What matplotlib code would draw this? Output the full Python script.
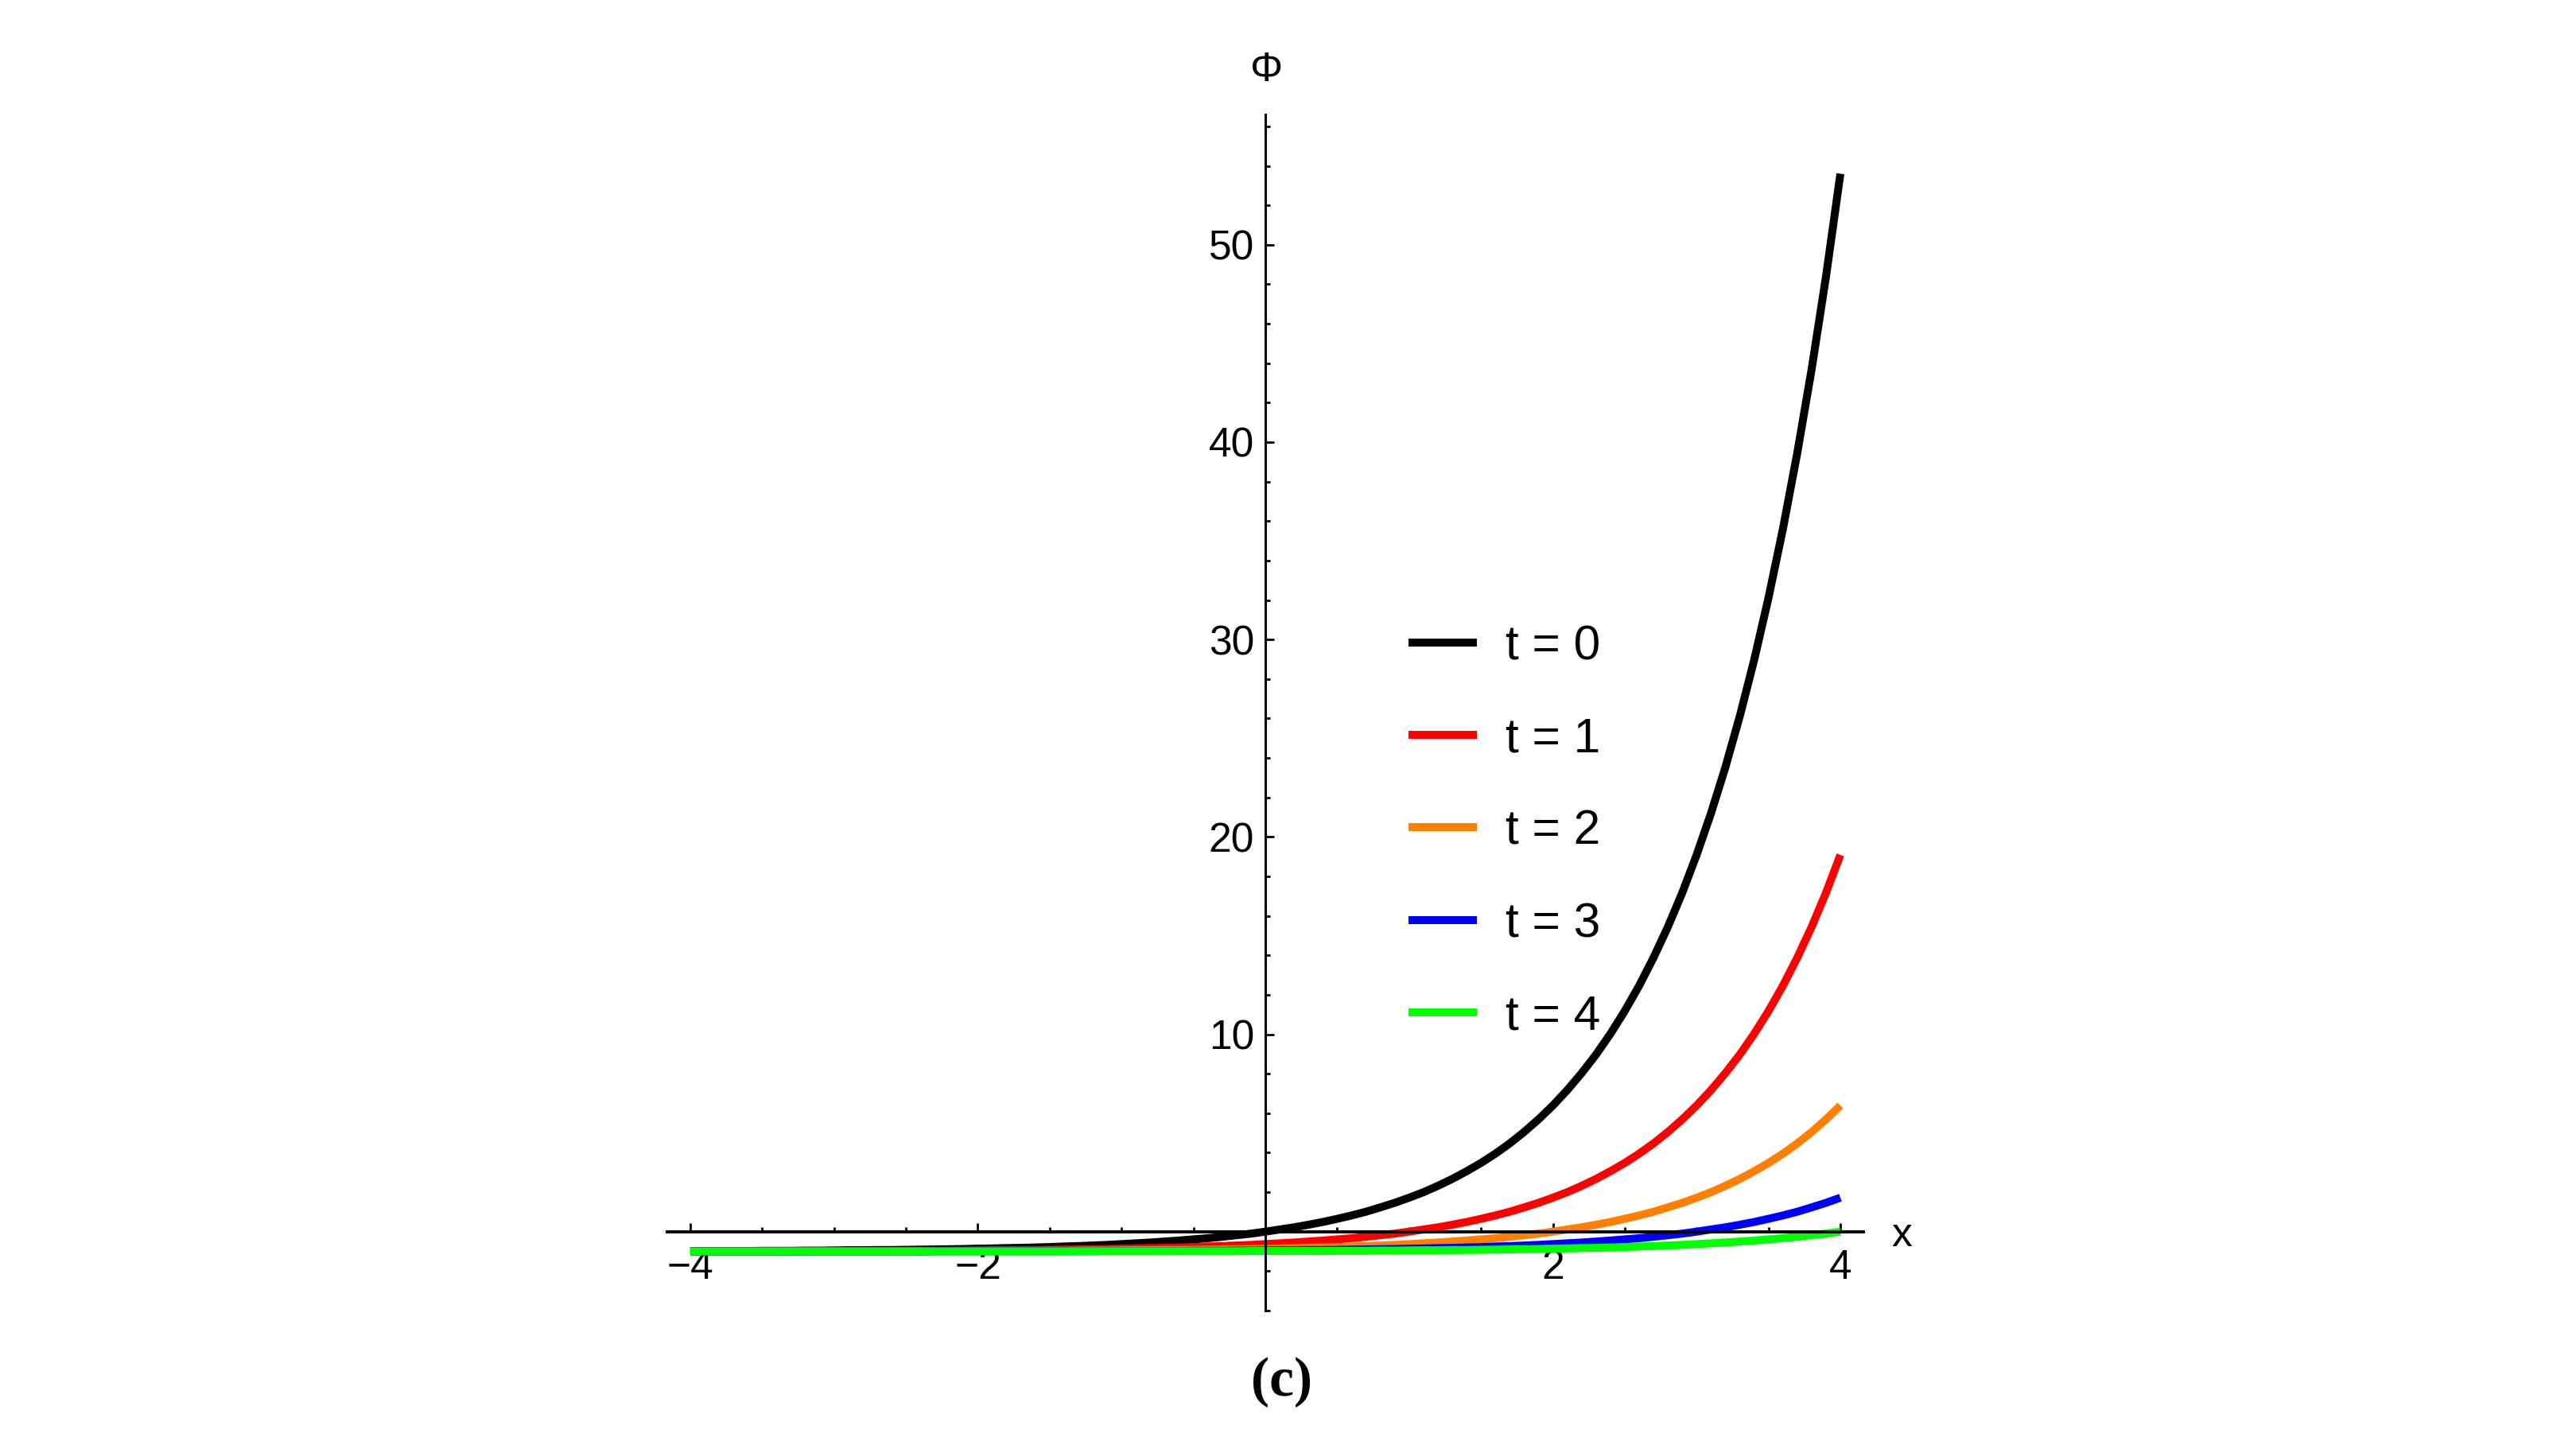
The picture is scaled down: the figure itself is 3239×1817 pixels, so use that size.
import numpy as np
import matplotlib.pyplot as plt

plt.rcParams['font.family'] = ['Liberation Sans', 'DejaVu Sans']

# values, x step 0.1 from -4 to 4
x = np.linspace(-4, 4, 81)

phi_t0 = [-0.98, -0.98, -0.98, -0.98, -0.98, -0.97, -0.97, -0.97, -0.96, -0.96,
          -0.95, -0.94, -0.94, -0.93, -0.93, -0.92, -0.91, -0.90, -0.89, -0.88,
          -0.86, -0.85, -0.83, -0.82, -0.80, -0.78, -0.75, -0.73, -0.70, -0.67,
          -0.63, -0.59, -0.55, -0.50, -0.45, -0.39, -0.33, -0.26, -0.18, -0.10,
          0.00, 0.11, 0.22, 0.35, 0.49, 0.65, 0.82, 1.01, 1.23, 1.46,
          1.72, 2.00, 2.32, 2.67, 3.06, 3.48, 3.95, 4.47, 5.05, 5.69,
          6.39, 7.17, 8.03, 8.97, 10.02, 11.18, 12.46, 13.88, 15.44, 17.17,
          19.09, 21.20, 23.53, 26.11, 28.96, 32.12, 35.60, 39.45, 43.70, 48.40,
          53.60]
phi_t1 = [-0.99, -0.99, -0.99, -0.99, -0.99, -0.99, -0.99, -0.99, -0.99, -0.98,
          -0.98, -0.98, -0.98, -0.98, -0.98, -0.97, -0.97, -0.97, -0.96, -0.96,
          -0.95, -0.94, -0.94, -0.93, -0.93, -0.92, -0.91, -0.90, -0.89, -0.88,
          -0.86, -0.85, -0.83, -0.82, -0.80, -0.78, -0.75, -0.73, -0.70, -0.67,
          -0.63, -0.59, -0.55, -0.50, -0.45, -0.39, -0.33, -0.26, -0.18, -0.10,
          0.00, 0.11, 0.22, 0.35, 0.49, 0.65, 0.82, 1.01, 1.23, 1.46,
          1.72, 2.00, 2.32, 2.67, 3.06, 3.48, 3.95, 4.47, 5.05, 5.69,
          6.39, 7.17, 8.03, 8.97, 10.02, 11.18, 12.46, 13.88, 15.44, 17.17,
          19.09]
phi_t2 = [-1.00, -1.00, -1.00, -1.00, -1.00, -1.00, -1.00, -0.99, -0.99, -0.99,
          -0.99, -0.99, -0.99, -0.99, -0.99, -0.99, -0.99, -0.99, -0.99, -0.98,
          -0.98, -0.98, -0.98, -0.98, -0.98, -0.97, -0.97, -0.97, -0.96, -0.96,
          -0.95, -0.94, -0.94, -0.93, -0.93, -0.92, -0.91, -0.90, -0.89, -0.88,
          -0.86, -0.85, -0.83, -0.82, -0.80, -0.78, -0.75, -0.73, -0.70, -0.67,
          -0.63, -0.59, -0.55, -0.50, -0.45, -0.39, -0.33, -0.26, -0.18, -0.10,
          0.00, 0.11, 0.22, 0.35, 0.49, 0.65, 0.82, 1.01, 1.23, 1.46,
          1.72, 2.00, 2.32, 2.67, 3.06, 3.48, 3.95, 4.47, 5.05, 5.69,
          6.39]
phi_t3 = [-1.00, -1.00, -1.00, -1.00, -1.00, -1.00, -1.00, -1.00, -1.00, -1.00,
          -1.00, -1.00, -1.00, -1.00, -1.00, -1.00, -1.00, -0.99, -0.99, -0.99,
          -0.99, -0.99, -0.99, -0.99, -0.99, -0.99, -0.99, -0.99, -0.99, -0.98,
          -0.98, -0.98, -0.98, -0.98, -0.98, -0.97, -0.97, -0.97, -0.96, -0.96,
          -0.95, -0.94, -0.94, -0.93, -0.93, -0.92, -0.91, -0.90, -0.89, -0.88,
          -0.86, -0.85, -0.83, -0.82, -0.80, -0.78, -0.75, -0.73, -0.70, -0.67,
          -0.63, -0.59, -0.55, -0.50, -0.45, -0.39, -0.33, -0.26, -0.18, -0.10,
          0.00, 0.11, 0.22, 0.35, 0.49, 0.65, 0.82, 1.01, 1.23, 1.46,
          1.72]
phi_t4 = [-1.00, -1.00, -1.00, -1.00, -1.00, -1.00, -1.00, -1.00, -1.00, -1.00,
          -1.00, -1.00, -1.00, -1.00, -1.00, -1.00, -1.00, -1.00, -1.00, -1.00,
          -1.00, -1.00, -1.00, -1.00, -1.00, -1.00, -1.00, -0.99, -0.99, -0.99,
          -0.99, -0.99, -0.99, -0.99, -0.99, -0.99, -0.99, -0.99, -0.99, -0.98,
          -0.98, -0.98, -0.98, -0.98, -0.98, -0.97, -0.97, -0.97, -0.96, -0.96,
          -0.95, -0.94, -0.94, -0.93, -0.93, -0.92, -0.91, -0.90, -0.89, -0.88,
          -0.86, -0.85, -0.83, -0.82, -0.80, -0.78, -0.75, -0.73, -0.70, -0.67,
          -0.63, -0.59, -0.55, -0.50, -0.45, -0.39, -0.33, -0.26, -0.18, -0.10,
          0.00]

labels = ['t = 0', 't = 1', 't = 2', 't = 3', 't = 4']
colors = ['#000000', '#ff0000', '#ff8000', '#0000ff', '#00ff00']

W, H = 3239, 1817
fig = plt.figure(figsize=(W / 200, H / 200), dpi=200)
# axes box: x from 839 to 2343 px, y from 144 to 1648 px
ax = fig.add_axes([839 / W, 1 - 1648 / H, (2343 - 839) / W, (1648 - 144) / H])

series = [phi_t0, phi_t1, phi_t2, phi_t3, phi_t4]
for s, c, lab in zip(series, colors, labels):
    ax.plot(x, s, color=c, lw=3.6, solid_capstyle='butt', label=lab)

ax.set_xlim(-4.16, 4.16)
ax.set_ylim(-3.99, 56.6)

for side in ['top', 'right']:
    ax.spines[side].set_visible(False)
ax.spines['left'].set_position(('data', 0))
ax.spines['bottom'].set_position(('data', 0))
ax.spines['left'].set_linewidth(1.1)
ax.spines['bottom'].set_linewidth(1.4)

ax.set_xticks([-4, -2, 2, 4])
ax.set_xticks(np.arange(-4, 4.01, 0.5), minor=True)
ax.set_yticks([10, 20, 30, 40, 50])
ax.set_yticks([v for v in range(-4, 57, 2) if v % 10 != 0], minor=True)

ax.tick_params(which='both', direction='in', width=1.0, labelsize=18.6)
ax.tick_params(which='major', length=4, pad=5)
ax.tick_params(which='minor', length=2)
ax.tick_params(axis='x', which='major', pad=7.5)

fig.text(2391 / W, 1 - 1553 / H, 'x', ha='center', va='center', fontsize=18.6)
fig.text(1593 / W, 1 - 89 / H, 'Φ', ha='center', va='center', fontsize=18.6)
fig.text(1612 / W, 1 - 1738 / H, '(c)', ha='center', va='center', fontsize=25,
         family='Liberation Serif', fontweight='bold')

ax.legend(loc='upper left', bbox_to_anchor=(1771 / W, 1 - 785 / H),
          bbox_transform=fig.transFigure, frameon=False, fontsize=21.8,
          handlelength=1.42, handletextpad=0.6, labelspacing=0.98,
          borderpad=0, borderaxespad=0)

fig.savefig('out.png', dpi=200, facecolor='white')
